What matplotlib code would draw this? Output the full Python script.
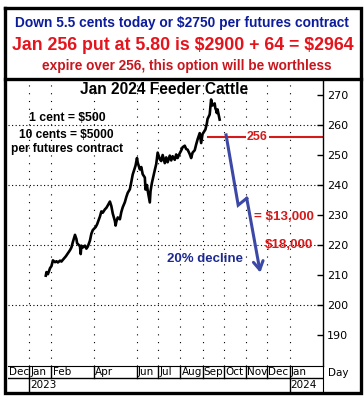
import numpy as np
import pandas as pd
import matplotlib
matplotlib.use('Agg')
import matplotlib.pyplot as plt
import matplotlib.dates as mdates

# Jan 2024 feeder cattle futures
price_dates = ['2023-01-24', '2023-01-25', '2023-01-27', '2023-01-30', '2023-02-01', '2023-02-03',
               '2023-02-06', '2023-02-08', '2023-02-10', '2023-02-13', '2023-02-15', '2023-02-17',
               '2023-02-21', '2023-02-23', '2023-02-27', '2023-03-01', '2023-03-03', '2023-03-06',
               '2023-03-08', '2023-03-09', '2023-03-13', '2023-03-14', '2023-03-15', '2023-03-17',
               '2023-03-20', '2023-03-22', '2023-03-24', '2023-03-27', '2023-03-29', '2023-03-31',
               '2023-04-04', '2023-04-06', '2023-04-10', '2023-04-12', '2023-04-14', '2023-04-17',
               '2023-04-19', '2023-04-21', '2023-04-24', '2023-04-26', '2023-04-28', '2023-05-01',
               '2023-05-02', '2023-05-03', '2023-05-05', '2023-05-08', '2023-05-10', '2023-05-12',
               '2023-05-15', '2023-05-17', '2023-05-19', '2023-05-22', '2023-05-24', '2023-05-26',
               '2023-05-30', '2023-06-01', '2023-06-02', '2023-06-05', '2023-06-07', '2023-06-09',
               '2023-06-12', '2023-06-13', '2023-06-15', '2023-06-16', '2023-06-19', '2023-06-20',
               '2023-06-22', '2023-06-26', '2023-06-28', '2023-06-30', '2023-07-03', '2023-07-05',
               '2023-07-07', '2023-07-10', '2023-07-12', '2023-07-14', '2023-07-17', '2023-07-19',
               '2023-07-21', '2023-07-24', '2023-07-26', '2023-07-28', '2023-07-31', '2023-08-02',
               '2023-08-04', '2023-08-07', '2023-08-09', '2023-08-11', '2023-08-14', '2023-08-16',
               '2023-08-18', '2023-08-21', '2023-08-23', '2023-08-25', '2023-08-28', '2023-08-30',
               '2023-09-01', '2023-09-05', '2023-09-07', '2023-09-08', '2023-09-11', '2023-09-12',
               '2023-09-13', '2023-09-14', '2023-09-15', '2023-09-18', '2023-09-19', '2023-09-20',
               '2023-09-21', '2023-09-22', '2023-09-25']
price_vals = [209.8, 211.0, 210.3, 212.3, 213.0, 214.9,
              214.3, 214.6, 214.2, 214.8, 214.5, 215.1,
              216.2, 216.9, 218.3, 219.2, 221.0, 223.4,
              222.0, 220.6, 219.6, 217.0, 219.8, 219.2,
              219.8, 218.8, 219.5, 221.5, 223.8, 225.0,
              226.0, 226.9, 229.5, 231.2, 230.8, 231.9,
              232.4, 233.2, 234.5, 233.0, 230.5, 228.0,
              226.5, 227.8, 229.2, 228.6, 231.0, 232.6,
              234.3, 236.0, 237.4, 238.6, 241.0, 243.5,
              246.5, 249.0, 247.5, 245.2, 246.0, 243.6,
              242.5, 238.5, 240.0, 238.2, 234.2, 238.0,
              240.8, 245.0, 247.0, 250.8, 248.6, 248.0,
              250.0, 247.3, 249.2, 247.6, 249.8, 248.2,
              249.6, 248.4, 250.2, 249.0, 250.6, 251.5,
              252.6, 253.1, 252.0, 251.8, 250.3, 249.0,
              250.8, 251.6, 253.5, 255.2, 257.3, 254.0,
              257.0, 258.5, 260.5, 262.0, 263.5, 266.0,
              268.5, 267.3, 266.5, 267.2, 265.5, 265.0,
              264.0, 265.2, 261.8]

strike = 256
strike_start = '2023-09-08'
# projected decline path (blue arrow)
proj_dates = ['2023-10-04', '2023-10-21', '2023-11-02', '2023-11-21']
proj_vals = [256.7, 233.3, 235.6, 210.8]

month_starts = ['2023-01-01', '2023-02-01', '2023-04-01', '2023-06-01', '2023-07-01', '2023-08-01',
                '2023-09-01', '2023-10-01', '2023-11-01', '2023-12-01', '2024-01-01']
month_labels = ['Jan', 'Feb', 'Apr', 'Jun', 'Jul', 'Aug', 'Sep', 'Oct', 'Nov', 'Dec', 'Jan']
year_starts = ['2023-01-01', '2024-01-01']
year_labels = ['2023', '2024']
yticks = [190, 200, 210, 220, 230, 240, 250, 260, 270]
ygrid = [200, 220, 240, 260]

W, H = 364, 396
x0 = mdates.date2num(pd.Timestamp('2022-12-02'))
x1 = mdates.date2num(pd.Timestamp('2024-02-17'))

fig = plt.figure(figsize=(W / 100, H / 100), dpi=100)
fig.patch.set_facecolor('white')

# main price panel
ax = fig.add_axes([8 / W, 1 - 366 / H, 315 / W, 286 / H])
ax.set_xlim(x0, x1)
ax.set_ylim(179.7, 275)
for s in ['left', 'top', 'bottom']:
    ax.spines[s].set_visible(False)
ax.spines['right'].set_linewidth(1)
ax.yaxis.tick_right()
ax.set_yticks(yticks)
ax.set_yticklabels([str(v) for v in yticks], fontsize=8, family='DejaVu Sans')
ax.tick_params(axis='y', direction='in', length=4, width=1, pad=3)
ax.set_xticks([])

for m in month_starts:
    ax.axvline(mdates.date2num(pd.Timestamp(m)), color='black', lw=0.8, ls=(0, (1, 6)), zorder=0)
for g in ygrid:
    ax.axhline(g, color='black', lw=0.8, ls=(0, (1, 2.2)), zorder=0)

pd_num = mdates.date2num(pd.to_datetime(price_dates))
ax.plot(pd_num, price_vals, color='black', lw=1.9, zorder=3)

ax.plot([mdates.date2num(pd.Timestamp(strike_start)), x1], [strike, strike], color='#D41A1A', lw=1.5, zorder=2)
ax.text(mdates.date2num(pd.Timestamp('2023-11-17')), strike, str(strike), color='#D41A1A',
        fontsize=9, fontweight='bold', family='Liberation Sans', ha='center', va='center',
        bbox=dict(facecolor='white', edgecolor='none', pad=0.5), zorder=4)

blue = '#3C48A6'
pj = mdates.date2num(pd.to_datetime(proj_dates))
ax.plot(pj[:3], proj_vals[:3], color=blue, lw=2.2, solid_joinstyle='miter', zorder=4)
ax.annotate('', xy=(pj[3], proj_vals[3]), xytext=(pj[2], proj_vals[2]),
            arrowprops=dict(arrowstyle='->,head_length=0.6,head_width=0.35', color=blue, lw=2.2,
                            shrinkA=0, shrinkB=0), zorder=4)

# date rows
ax2 = fig.add_axes([8 / W, 1 - 392 / H, 315 / W, 26 / H])
ax2.set_xlim(x0, x1)
ax2.set_ylim(392, 366)
ax2.set_xticks([])
ax2.set_yticks([])
ax2.spines['left'].set_visible(False)
ax2.spines['bottom'].set_visible(False)
ax2.axhline(378, color='black', lw=1)
ax2.text(x0 + 1, 372.5, 'Dec', fontsize=7.5, family='DejaVu Sans', ha='left', va='center')
for m, lab in zip(month_starts, month_labels):
    xm = mdates.date2num(pd.Timestamp(m))
    ax2.plot([xm, xm], [366, 378], color='black', lw=1)
    ax2.text(xm + 1.5, 372.5, lab, fontsize=7.5, family='DejaVu Sans', ha='left', va='center')
for y, lab in zip(year_starts, year_labels):
    xy = mdates.date2num(pd.Timestamp(y))
    ax2.plot([xy, xy], [378, 392], color='black', lw=1)
    ax2.text(xy + 1.5, 384.5, lab, fontsize=7.5, family='DejaVu Sans', ha='left', va='center')

# overlay in pixel units for frame and text
ov = fig.add_axes([0, 0, 1, 1])
ov.set_xlim(0, W)
ov.set_ylim(H, 0)
ov.axis('off')
ov.patch.set_alpha(0)
ov.plot([5, 361, 361, 5, 5], [8, 8, 393, 393, 8], color='black', lw=2.4, solid_joinstyle='miter')
ov.plot([5, 361], [79, 79], color='black', lw=2.4)

ov.text(182, 23, r'Down 5.5 cents today or \$2750 per futures contract', color='#0C1C9C',
        fontsize=9.9, fontweight='bold', family='Liberation Sans', ha='center', va='center')
ov.text(182.5, 45, r'Jan 256 put at 5.80 is \$2900 + 64 = \$2964', color='#E5141C',
        fontsize=12.8, fontweight='bold', family='Liberation Sans', ha='center', va='center')
ov.text(187, 66, 'expire over 256, this option will be worthless', color='#C8161E',
        fontsize=9.8, fontweight='bold', family='Liberation Sans', ha='center', va='center')

ov.text(164, 90, 'Jan 2024 Feeder Cattle', fontsize=11.2, fontweight='bold',
        family='Liberation Sans', ha='center', va='center')
ov.text(67, 118, r'1 cent = \$500', fontsize=8.8, fontweight='bold', family='Liberation Sans',
        ha='center', va='center')
ov.text(66, 135, r'10 cents = \$5000', fontsize=8.6, fontweight='bold', family='Liberation Sans',
        ha='center', va='center')
ov.text(67, 149, 'per futures contract', fontsize=8.6, fontweight='bold', family='Liberation Sans',
        ha='center', va='center')
ov.text(254, 217, r'= \$13,000', color='#D41A1A', fontsize=9.6, fontweight='bold',
        family='Liberation Sans', ha='left', va='center')
ov.text(265, 245, r'\$18,000', color='#D41A1A', fontsize=9.6, fontweight='bold',
        family='Liberation Sans', ha='left', va='center')
ov.text(167, 259, '20% decline', color='#1C2A90', fontsize=9.5, fontweight='bold',
        family='Liberation Sans', ha='left', va='center')
ov.text(328, 373, 'Day', fontsize=7.5, family='DejaVu Sans', ha='left', va='center')

plt.savefig('out.png', dpi=100)
